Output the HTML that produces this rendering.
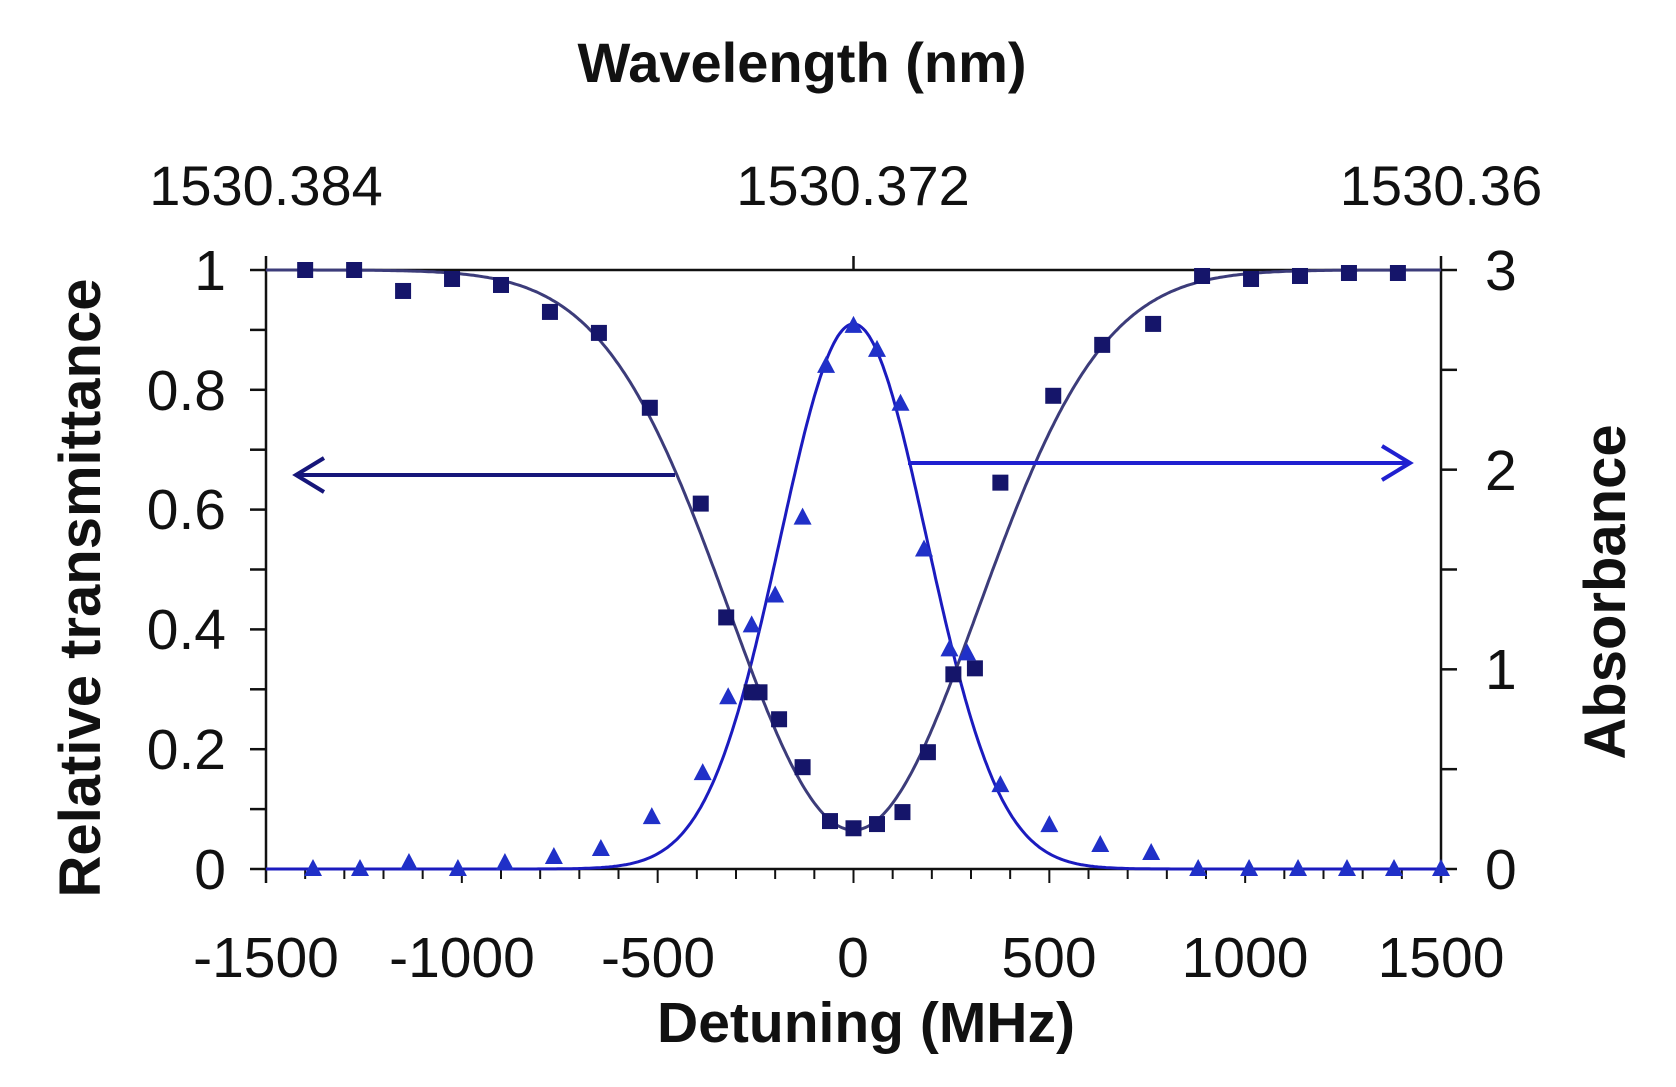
<!DOCTYPE html>
<html><head><meta charset="utf-8"><style>
html,body{margin:0;padding:0;background:#fff}
svg{display:block}
text{font-family:"Liberation Sans",Arial,sans-serif;fill:#111}
.b{font-weight:bold}
</style></head><body>
<svg id="s" width="1676" height="1087" viewBox="0 0 1676 1087" xmlns="http://www.w3.org/2000/svg">
<rect width="1676" height="1087" fill="#fff"/>
<text class="b" x="802" y="82" font-size="56" text-anchor="middle">Wavelength (nm)</text>
<text x="266" y="205" font-size="56" text-anchor="middle">1530.384</text>
<text x="853" y="205" font-size="56" text-anchor="middle">1530.372</text>
<text x="1441" y="205" font-size="56" text-anchor="middle">1530.36</text>
<g font-size="57" text-anchor="end">
<text x="226" y="290">1</text><text x="226" y="410">0.8</text><text x="226" y="529">0.6</text>
<text x="226" y="649">0.4</text><text x="226" y="769">0.2</text><text x="226" y="889">0</text>
</g>
<g font-size="57" text-anchor="start">
<text x="1485" y="290">3</text><text x="1485" y="490">2</text><text x="1485" y="689">1</text><text x="1485" y="889">0</text>
</g>
<g font-size="57" text-anchor="middle">
<text x="266" y="977">-1500</text><text x="462" y="977">-1000</text><text x="658" y="977">-500</text>
<text x="853" y="977">0</text><text x="1049" y="977">500</text><text x="1245" y="977">1000</text><text x="1441" y="977">1500</text>
</g>
<text class="b" x="866" y="1042" font-size="57" text-anchor="middle">Detuning (MHz)</text>
<text class="b" font-size="58" text-anchor="middle" transform="translate(100,588) rotate(-90)">Relative transmittance</text>
<text class="b" font-size="58" text-anchor="middle" transform="translate(1625,592) rotate(-90)">Absorbance</text>
<g id="g"></g>
</svg>
<script>
var g=document.getElementById('g'),ns='http://www.w3.org/2000/svg';
function el(t,a){var e=document.createElementNS(ns,t);for(var k in a)e.setAttribute(k,a[k]);g.appendChild(e);return e;}
var X0=266,X1=1441,Y1=270,Y0=869;
function px(m){return X0+(m+1500)/3000*(X1-X0);}
function pyT(t){return Y0-t*(Y0-Y1);}
function pyA(a){return pyT(a/3);}
el('line',{x1:X0,y1:Y1,x2:X1,y2:Y1,stroke:'#111','stroke-width':2.5});
el('line',{x1:X0,y1:Y0,x2:X1,y2:Y0,stroke:'#111','stroke-width':2.5});
el('line',{x1:X0,y1:Y1-14,x2:X0,y2:Y0+14,stroke:'#111','stroke-width':2.5});
el('line',{x1:X1,y1:Y1-14,x2:X1,y2:Y0+14,stroke:'#111','stroke-width':2.5});
el('line',{x1:px(0),y1:Y1-14,x2:px(0),y2:Y1,stroke:'#111','stroke-width':2.5});
for(var i=0;i<=10;i++){var y=pyT(i/10);el('line',{x1:X0-16,y1:y,x2:X0,y2:y,stroke:'#111','stroke-width':2.5});}
for(var i=0;i<=6;i++){var y=pyA(i/2);el('line',{x1:X1,y1:y,x2:X1+16,y2:y,stroke:'#111','stroke-width':2.5});}
for(var m=-1500;m<=1500;m+=100){var L=(m%500==0)?14:10;el('line',{x1:px(m),y1:Y0,x2:px(m),y2:Y0+L,stroke:'#111','stroke-width':2});}
var s=187,A0=2.73,dT='',dA='',sT=318;
for(var m=-1500;m<=1500;m+=5){var A=A0*Math.exp(-m*m/(2*s*s));var T=1-0.935*Math.exp(-m*m/(2*sT*sT));
dT+=(m==-1500?'M':'L')+px(m).toFixed(1)+' '+pyT(T).toFixed(1);dA+=(m==-1500?'M':'L')+px(m).toFixed(1)+' '+pyA(A).toFixed(1);}
el('path',{d:dA,fill:'none',stroke:'#1b1bbf','stroke-width':3});
el('path',{d:dT,fill:'none',stroke:'#3c3c7a','stroke-width':3});
el('path',{d:'M675 475 L296 475',stroke:'#16167a','stroke-width':4,fill:'none'});
el('path',{d:'M324 458 L296 475 L324 492',stroke:'#16167a','stroke-width':4,fill:'none'});
el('path',{d:'M908 463 L1410 463',stroke:'#2020d0','stroke-width':4,fill:'none'});
el('path',{d:'M1382 446 L1410 463 L1382 480',stroke:'#2020d0','stroke-width':4,fill:'none'});
var sq=[[-1400,1.0],[-1275,1.0],[-1150,0.965],[-1025,0.985],[-900,0.975],[-775,0.93],[-650,0.895],[-520,0.77],[-390,0.61],[-325,0.42],[-260,0.295],[-240,0.295],[-190,0.25],[-130,0.17],[-60,0.08],[0,0.068],[60,0.075],[125,0.095],[190,0.195],[255,0.325],[310,0.335],[375,0.645],[510,0.79],[635,0.875],[765,0.91],[890,0.99],[1015,0.985],[1140,0.99],[1265,0.995],[1390,0.995]];
sq.forEach(function(p){var x=px(p[0]),y=pyT(p[1]);el('rect',{x:x-8,y:y-8,width:16,height:16,fill:'#15156a'});});
var tr=[[-1380,0],[-1260,0],[-1135,0.03],[-1010,0],[-890,0.03],[-765,0.06],[-645,0.1],[-515,0.26],[-385,0.48],[-320,0.86],[-260,1.22],[-200,1.37],[-130,1.76],[-70,2.52],[0,2.72],[60,2.6],[120,2.33],[180,1.6],[245,1.1],[290,1.08],[375,0.42],[500,0.22],[630,0.12],[760,0.08],[880,0],[1010,0],[1135,0],[1260,0],[1380,0],[1500,0]];
tr.forEach(function(p){var x=px(p[0]),y=pyA(p[1]);el('path',{d:'M'+(x-9)+' '+(y+7)+' L'+x+' '+(y-10)+' L'+(x+9)+' '+(y+7)+' Z',fill:'#2030c8'});});
</script>
</body></html>
